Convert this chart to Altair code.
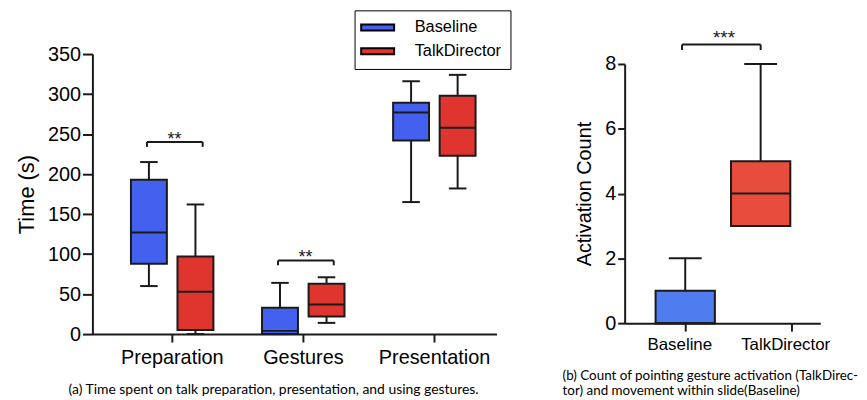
import altair as alt
import pandas as pd

# ---------------- data ----------------
categories = ["Preparation", "Gestures", "Presentation"]
series = ["Baseline", "TalkDirector"]

baseline_min = [60, 0, 165]
baseline_q1 = [88, 0, 242]
baseline_med = [127, 4, 277]
baseline_q3 = [193, 33, 289]
baseline_max = [215, 64, 316]

td_min = [0, 14, 182]
td_q1 = [5, 22, 223]
td_med = [53, 37, 258]
td_q3 = [97, 63, 298]
td_max = [162, 71, 324]

sig_categories = ["Preparation", "Gestures"]
sig_y = [240, 92]
sig_labels = ["**", "**"]

groups = ["Baseline", "TalkDirector"]
count_min = [0, 3]
count_q1 = [0, 3]
count_med = [0, 4]
count_q3 = [1, 5]
count_max = [2, 8]
count_sig_y = 8.6
count_sig_label = "***"

# ---------------- styles ----------------
FONT = "Liberation Sans"
CAP_FONT = "Lato"
INK = "#1a1a1a"
left_colors = ["#4361ee", "#e0342f"]
right_colors = ["#4f7df0", "#e84c3d"]

offsets = {"Baseline": -0.175, "TalkDirector": 0.18}
BOX_HALF = 0.137
CAP_HALF = 0.067

rows = []
stats = {
    "Baseline": (baseline_min, baseline_q1, baseline_med, baseline_q3, baseline_max),
    "TalkDirector": (td_min, td_q1, td_med, td_q3, td_max),
}
for s in series:
    mn, q1, md, q3, mx = stats[s]
    for i, c in enumerate(categories):
        xc = i + offsets[s]
        rows.append(dict(category=c, series=s, xc=xc, xl=xc - BOX_HALF, xr=xc + BOX_HALF,
                         cl=xc - CAP_HALF, cr=xc + CAP_HALF,
                         mn=mn[i], q1=q1[i], med=md[i], q3=q3[i], mx=mx[i]))
left_df = pd.DataFrame(rows)

sig_rows = []
for c, y, lab in zip(sig_categories, sig_y, sig_labels):
    i = categories.index(c)
    sig_rows.append(dict(x1=i - 0.19, x2=i + 0.235, xm=i + 0.02, y=y, yt=y - 6, label=lab))
sig_df = pd.DataFrame(sig_rows)

label_expr = "[" + ",".join("'%s'" % c for c in categories) + "][datum.value]"
xs_left = alt.Scale(domain=[-0.606, 2.477], nice=False, zero=False)
ys_left = alt.Scale(domain=[0, 350], nice=False)

x_axis_left = alt.Axis(values=list(range(len(categories))), labelExpr=label_expr, grid=False,
                       tickSize=8, labelPadding=6, labelFontSize=20, labelFont=FONT,
                       title="(a) Time spent on talk preparation, presentation, and using gestures.",
                       titleFont=CAP_FONT, titleFontSize=14, titleFontWeight="normal",
                       titleX=182, titleY=56, titleAlign="center", titleBaseline="middle")
y_axis_left = alt.Axis(values=[0, 50, 100, 150, 200, 250, 300, 350], grid=False, tickSize=10,
                       labelPadding=2, labelFontSize=20, labelFont=FONT, title="Time (s)",
                       titleFont=FONT, titleFontSize=22, titleFontWeight="normal", titlePadding=9)

base = alt.Chart(left_df)
X = lambda f, **k: alt.X(f, type="quantitative", scale=xs_left, **k)
Y = lambda f, **k: alt.Y(f, type="quantitative", scale=ys_left, **k)

whisk_lo = base.mark_rule(color=INK, strokeWidth=2).encode(
    x=X("xc", axis=x_axis_left), y=Y("mn", axis=y_axis_left), y2="q1")
whisk_hi = base.mark_rule(color=INK, strokeWidth=2).encode(x=X("xc"), y=Y("q3"), y2="mx")
cap_hi = base.mark_rule(color=INK, strokeWidth=2).encode(x=X("cl"), x2="cr", y=Y("mx"))
cap_lo = base.mark_rule(color=INK, strokeWidth=2).encode(x=X("cl"), x2="cr", y=Y("mn"))
boxes = base.mark_rect(stroke=INK, strokeWidth=2).encode(
    x=X("xl"), x2="xr", y=Y("q1"), y2="q3",
    fill=alt.Fill("series:N", scale=alt.Scale(domain=series, range=left_colors),
                  legend=alt.Legend(title=None, orient="none", legendX=264, legendY=-44,
                                    strokeColor="black", padding=9, fillColor="white",
                                    symbolType="M-5,-0.9H5V0.9H-5Z", symbolSize=44,
                                    symbolStrokeColor="black", symbolStrokeWidth=2,
                                    symbolOffset=6, labelOffset=29, labelFontSize=16.5,
                                    labelFont=FONT, labelColor="black", rowPadding=7)))
medians = base.mark_rule(color=INK, strokeWidth=2).encode(x=X("xl"), x2="xr", y=Y("med"))

sig = alt.Chart(sig_df)
sig_h = sig.mark_rule(color=INK, strokeWidth=2).encode(x=X("x1"), x2="x2", y=Y("y"))
sig_l = sig.mark_rule(color=INK, strokeWidth=2).encode(x=X("x1"), y=Y("yt"), y2="y")
sig_r = sig.mark_rule(color=INK, strokeWidth=2).encode(x=X("x2"), y=Y("yt"), y2="y")
sig_t = sig.mark_text(fontSize=18, font=FONT, baseline="alphabetic", dy=3, color=INK).encode(
    x=X("xm"), y=Y("y"), text="label:N")

left = alt.layer(whisk_lo, whisk_hi, cap_hi, cap_lo, boxes, medians,
                 sig_h, sig_l, sig_r, sig_t).properties(width=407, height=282)

# ---------------- right panel ----------------
r_off = [0.0, 0.712]
R_BOX_HALF = 0.28
R_CAP_HALF = 0.155
rrows = []
for i, g in enumerate(groups):
    xc = r_off[i]
    rrows.append(dict(group=g, xc=xc, xl=xc - R_BOX_HALF, xr=xc + R_BOX_HALF,
                      cl=xc - R_CAP_HALF, cr=xc + R_CAP_HALF,
                      mn=count_min[i], q1=count_q1[i], med=count_med[i],
                      q3=count_q3[i], mx=count_max[i]))
right_df = pd.DataFrame(rrows)
rsig_df = pd.DataFrame([dict(x1=r_off[0] - 0.03, x2=r_off[1] + 0.0, xm=(r_off[0] + r_off[1]) / 2 + 0.01,
                             y=count_sig_y, yt=count_sig_y - 0.17, label=count_sig_label)])

label_expr_r = "[" + ",".join("'%s'" % g for g in groups) + "][datum.value]"
xs_right = alt.Scale(domain=[-0.572, 1.275], nice=False, zero=False)
ys_right = alt.Scale(domain=[0, 8], nice=False, range=[271, 10])
x_axis_right = alt.Axis(values=list(range(len(groups))), labelExpr=label_expr_r, grid=False,
                        tickSize=8, labelPadding=6, labelFontSize=17, labelFont=FONT,
                        labelOffset=-6,
                        title=["(b) Count of pointing gesture activation (TalkDirec-",
                               "tor) and movement within slide(Baseline)"],
                        titleFont=CAP_FONT, titleFontSize=13.5, titleFontWeight="normal",
                        titleX=-63, titleY=53, titleAlign="left", titleBaseline="middle",
                        titleLineHeight=15)
y_axis_right = alt.Axis(values=[0, 2, 4, 6, 8], grid=False, tickSize=7, labelPadding=2,
                        labelFontSize=20, labelFont=FONT, title="Activation Count",
                        titleFont=FONT, titleFontSize=20, titleFontWeight="normal",
                        titlePadding=10)

rb = alt.Chart(right_df)
RX = lambda f, **k: alt.X(f, type="quantitative", scale=xs_right, **k)
RY = lambda f, **k: alt.Y(f, type="quantitative", scale=ys_right, **k)
r_wlo = rb.mark_rule(color=INK, strokeWidth=2).encode(
    x=RX("xc", axis=x_axis_right), y=RY("mn", axis=y_axis_right), y2="q1")
r_whi = rb.mark_rule(color=INK, strokeWidth=2).encode(x=RX("xc"), y=RY("q3"), y2="mx")
r_cap = rb.mark_rule(color=INK, strokeWidth=2).encode(x=RX("cl"), x2="cr", y=RY("mx"))
r_box = rb.mark_rect(stroke=INK, strokeWidth=2).encode(
    x=RX("xl"), x2="xr", y=RY("q1"), y2="q3",
    fill=alt.Fill("group:N", scale=alt.Scale(domain=groups, range=right_colors), legend=None))
r_med = rb.mark_rule(color=INK, strokeWidth=2).encode(x=RX("xl"), x2="xr", y=RY("med"))
rs = alt.Chart(rsig_df)
r_sh = rs.mark_rule(color=INK, strokeWidth=2).encode(x=RX("x1"), x2="x2", y=RY("y"))
r_sl = rs.mark_rule(color=INK, strokeWidth=2).encode(x=RX("x1"), y=RY("yt"), y2="y")
r_sr = rs.mark_rule(color=INK, strokeWidth=2).encode(x=RX("x2"), y=RY("yt"), y2="y")
r_st = rs.mark_text(fontSize=19, font=FONT, baseline="alphabetic", dy=-1, color=INK).encode(
    x=RX("xm"), y=RY("y"), text="label:N")

right = alt.layer(r_wlo, r_whi, r_cap, r_box, r_med, r_sh, r_sl, r_sr, r_st).properties(
    width=197, height=271)

chart = alt.hconcat(left, right, spacing=129, bounds="flush").resolve_scale(
    fill="independent").resolve_legend(fill="independent").configure_view(
    stroke=None).configure_axis(
    domainColor=INK, domainWidth=2, tickColor=INK, tickWidth=2, labelColor="black",
    titleColor="black", labelFont=FONT, titleFont=FONT).properties(
    padding={"left": 7, "top": 0, "right": 0, "bottom": 0}, background="white")

chart.save("out.html", embed_options={"renderer": "svg", "actions": False})
